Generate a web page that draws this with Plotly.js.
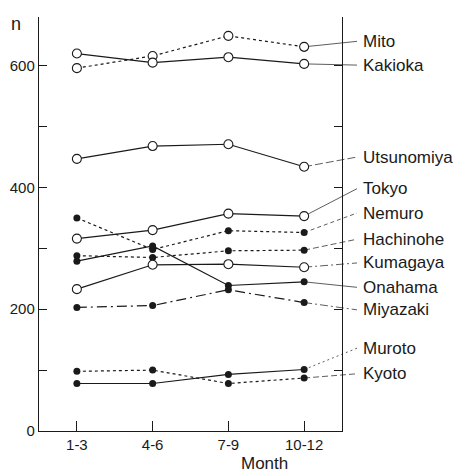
<!DOCTYPE html>
<html>
<head>
<meta charset="utf-8">
<script src="https://cdn.plot.ly/plotly-3.0.1.min.js"></script>
<style>html,body{margin:0;padding:0;background:#fff;}#chart{width:460px;height:475px;}</style>
</head>
<body>
<div id="chart"></div>
<script>
// ---- data ----
const months = ['1-3', '4-6', '7-9', '10-12'];
const stations = ['Mito', 'Kakioka', 'Utsunomiya', 'Tokyo', 'Nemuro', 'Hachinohe', 'Kumagaya', 'Onahama', 'Miyazaki', 'Muroto', 'Kyoto'];
const mito       = [596, 616, 649, 631];
const kakioka    = [620, 605, 614, 603];
const utsunomiya = [447, 468, 471, 434];
const tokyo      = [316, 330, 357, 353];
const nemuro     = [350, 298, 329, 326];
const hachinohe  = [288, 285, 296, 297];
const kumagaya   = [233, 273, 274, 269];
const onahama    = [279, 304, 239, 245];
const miyazaki   = [203, 206, 232, 211];
const muroto     = [78, 78, 93, 101];
const kyoto      = [98, 100, 78, 87];
const yTickVals  = [0, 100, 200, 300, 400, 500, 600];
const yTickText  = ['0', '', '200', '', '400', '', '600'];

// ---- styles (not data) ----
const series = [mito, kakioka, utsunomiya, tokyo, nemuro, hachinohe, kumagaya, onahama, miyazaki, muroto, kyoto];
const isFilled = [false, false, false, false, true, true, false, true, true, true, true];
const lineDash = ['3px,3px', 'solid', 'solid', 'solid', '3px,3px', '3px,3px', 'solid', 'solid', '10px,4px,2px,4px', 'solid', '3px,3px'];
const leaderDash = ['solid', 'solid', '8px,3px', 'solid', '4px,3px', '6px,3px', '8px,3px,2px,3px', 'solid', '8px,3px,2px,3px', '2px,3px', '6px,3px'];
const labelY = [640, 601, 450, 398, 358, 315, 276, 236, 199, 136, 94]; // label positions in y units

const ink = '#1a1a1a';
const FONT = 'Liberation Sans, Arial, sans-serif';
const xRange = [-0.5, 3.5];
const lastIdx = months.length - 1;
const lastXPaper = (lastIdx - xRange[0]) / (xRange[1] - xRange[0]);
const leaderEnd = 1.0495;
const labelX = 1.063;

const traces = series.map((vals, i) => ({
  type: 'scatter',
  mode: 'lines+markers',
  x: months,
  y: vals,
  name: stations[i],
  line: {color: ink, width: 1.2, dash: lineDash[i]},
  marker: isFilled[i]
    ? {symbol: 'circle', size: 7, color: ink, line: {color: ink, width: 0}}
    : {symbol: 'circle', size: 9, color: '#ffffff', line: {color: ink, width: 1.1}},
  cliponaxis: false,
  hoverinfo: 'x+y+name'
}));

const shapes = series.map((vals, i) => ({
  type: 'line', layer: 'below',
  xref: 'paper', yref: 'y',
  x0: lastXPaper, y0: vals[lastIdx],
  x1: leaderEnd, y1: labelY[i],
  line: {color: '#333', width: 0.8, dash: leaderDash[i]}
}));

const annotations = stations.map((s, i) => ({
  xref: 'paper', yref: 'y', x: labelX, y: labelY[i],
  xanchor: 'left', yanchor: 'middle', showarrow: false,
  text: s, font: {family: FONT, size: 17, color: ink}
}));
annotations.push({
  xref: 'paper', yref: 'paper', x: -0.076, y: 0.983, xanchor: 'center', yanchor: 'middle',
  showarrow: false, text: 'n', font: {family: FONT, size: 18, color: ink}
});
annotations.push({
  xref: 'paper', yref: 'paper', x: 0.7426, y: -0.0797, xanchor: 'center', yanchor: 'middle',
  showarrow: false, text: 'Month', font: {family: FONT, size: 17, color: ink}
});

const layout = {
  width: 460, height: 475,
  margin: {l: 39, r: 118, t: 17, b: 44, pad: 0},
  paper_bgcolor: '#fff', plot_bgcolor: '#fff',
  showlegend: false,
  font: {family: FONT, color: ink},
  xaxis: {
    type: 'category', range: xRange,
    showline: true, linecolor: ink, linewidth: 1.2, mirror: false,
    ticks: 'inside', ticklen: 10, tickwidth: 1, tickcolor: ink,
    showgrid: false, zeroline: false,
    tickfont: {family: FONT, size: 15, color: ink}
  },
  yaxis: {
    range: [0, 680],
    tickmode: 'array', tickvals: yTickVals, ticktext: yTickText,
    showline: true, linecolor: ink, linewidth: 1.2, mirror: 'ticks',
    ticks: 'inside', ticklen: 8, tickwidth: 1, tickcolor: ink,
    showgrid: false, zeroline: false,
    tickfont: {family: FONT, size: 15, color: ink}
  },
  shapes: shapes,
  annotations: annotations
};

Plotly.newPlot('chart', traces, layout, {displayModeBar: false, staticPlot: true});
</script>
</body>
</html>
